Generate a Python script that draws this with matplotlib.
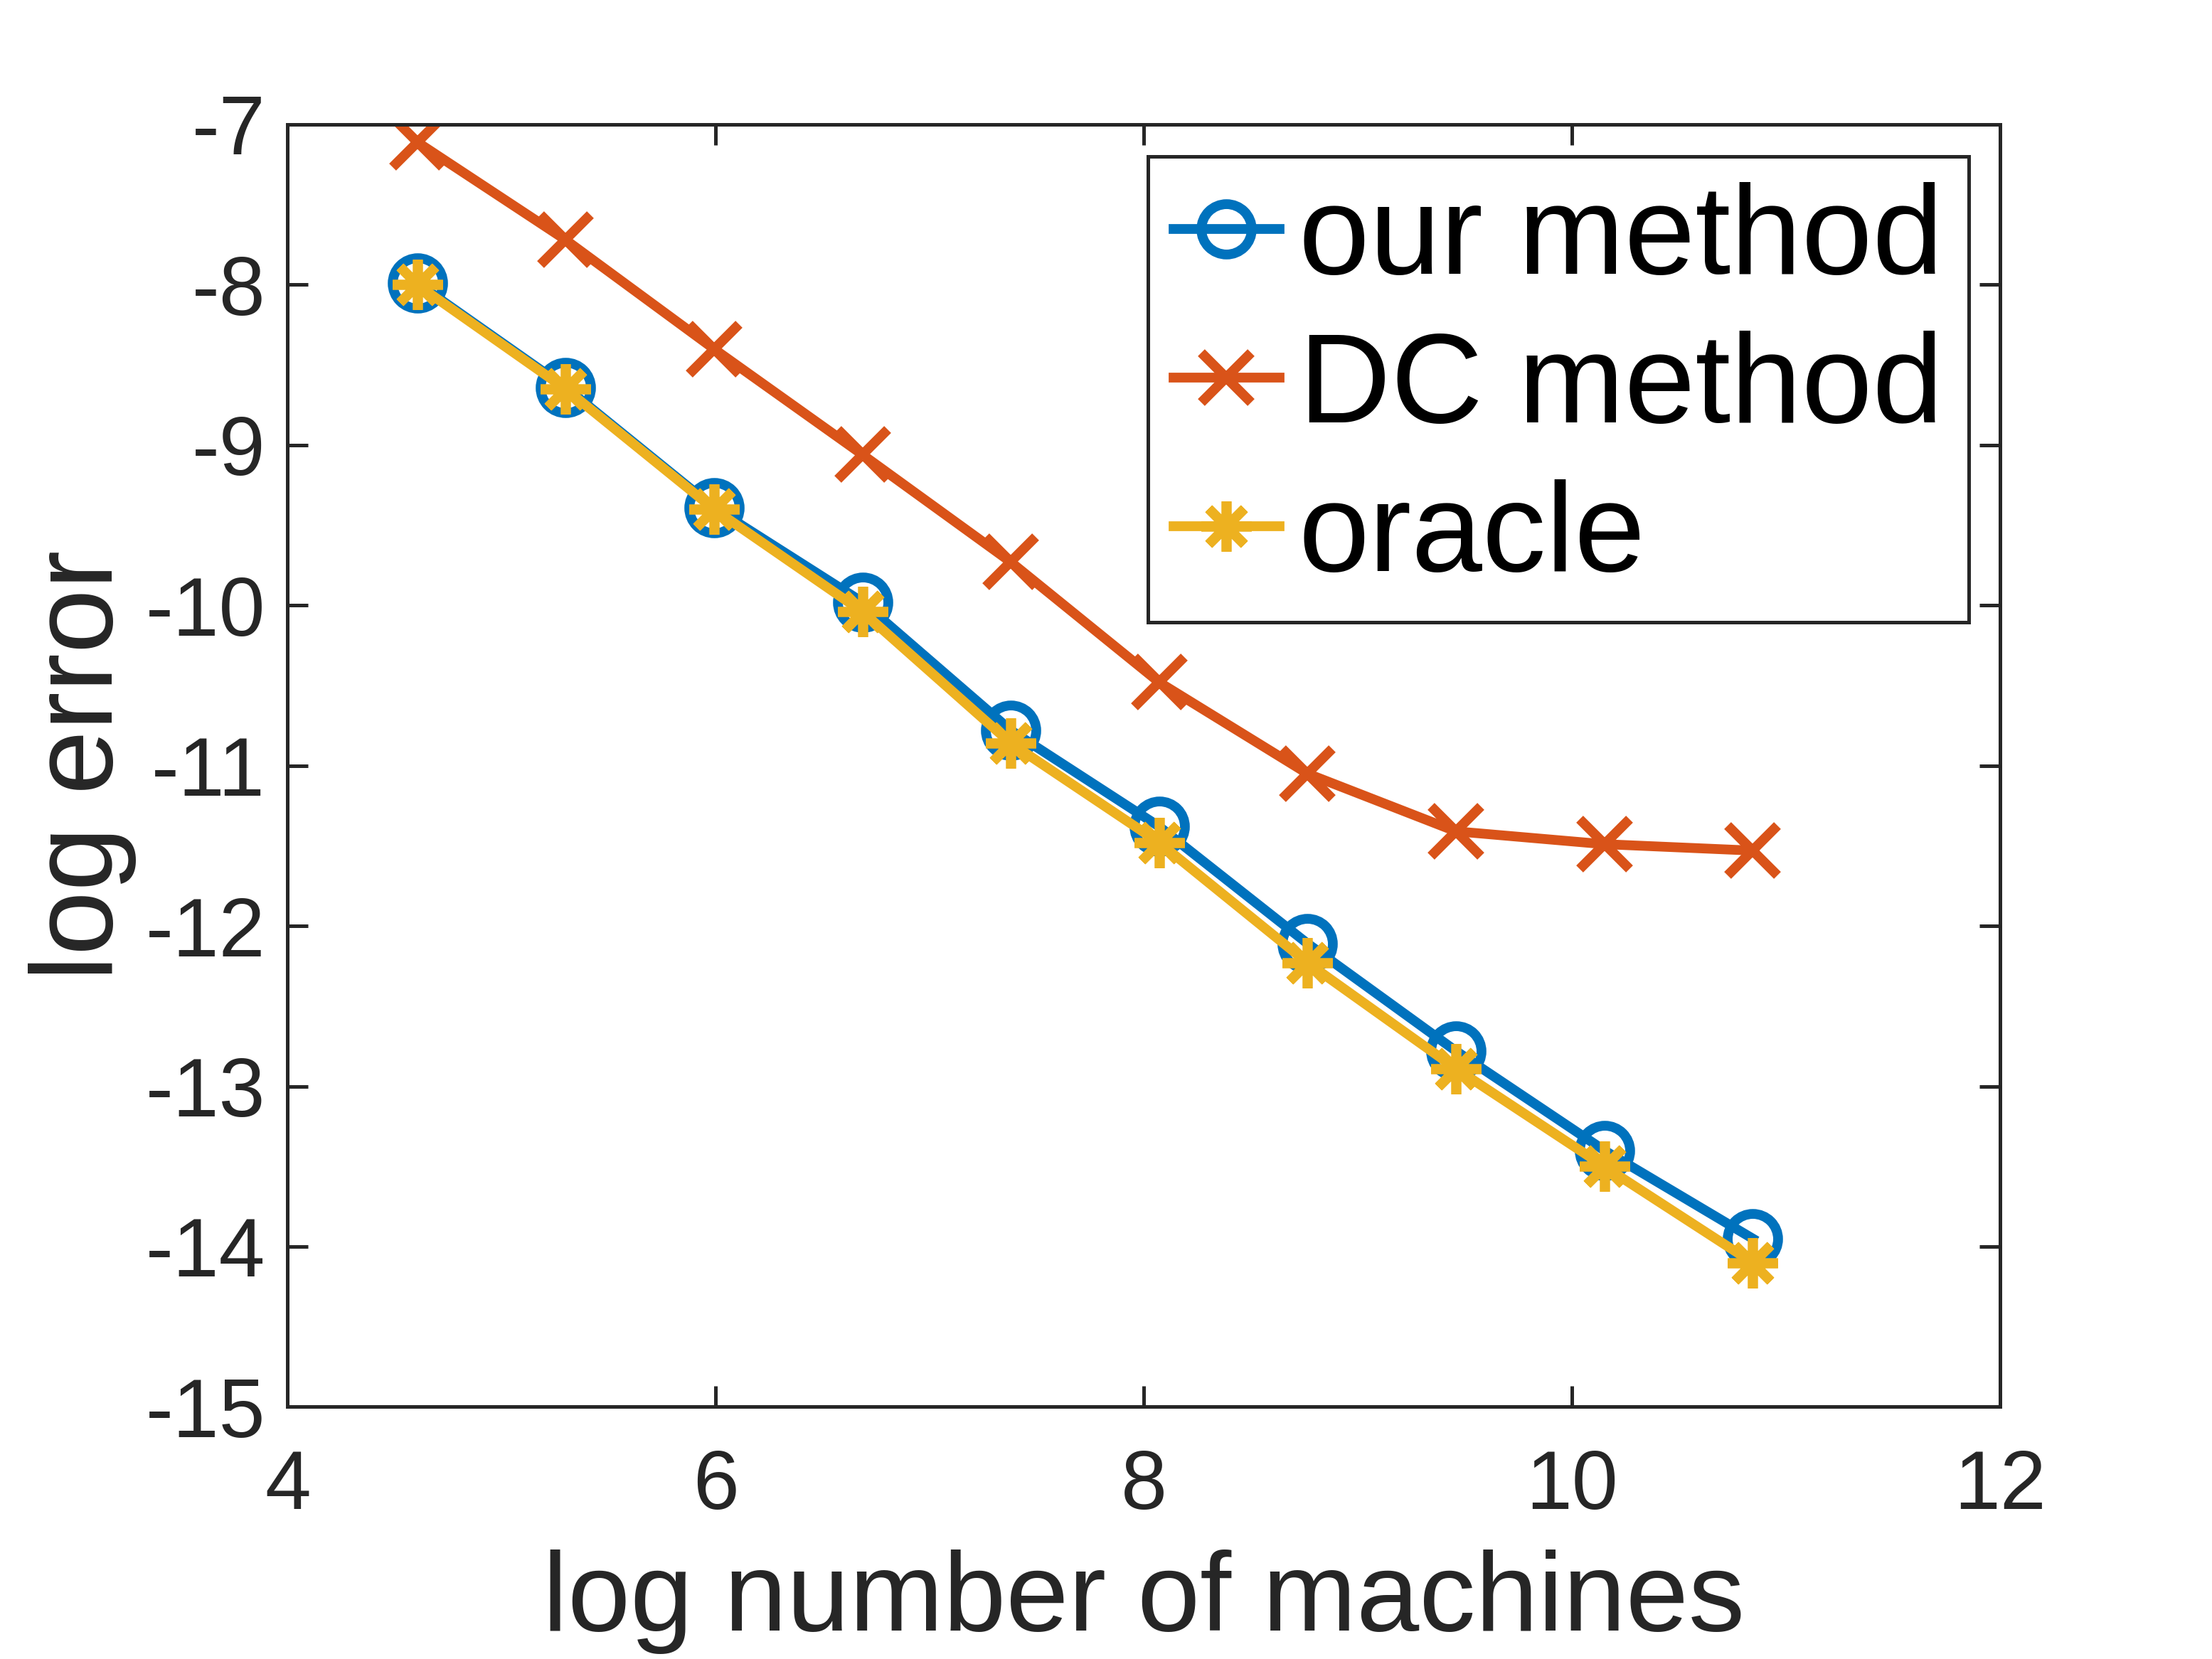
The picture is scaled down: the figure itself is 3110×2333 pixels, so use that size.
import matplotlib
matplotlib.use("Agg")
import matplotlib.pyplot as plt

plt.rcParams['font.family'] = ['Liberation Sans', 'DejaVu Sans']
plt.rcParams['axes.unicode_minus'] = False

# log number of machines (100, 200, ..., 51200)
log_machines = [4.605, 5.298, 5.991, 6.685, 7.378, 8.071, 8.764, 9.457, 10.150, 10.843]

# log error
our_method = [-7.99, -8.64, -9.39, -9.98, -10.78, -11.38, -12.11, -12.78, -13.40, -13.95]
dc_method = [-7.11, -7.72, -8.40, -9.06, -9.73, -10.48, -11.05, -11.41, -11.49, -11.53]
oracle = [-8.00, -8.65, -9.40, -10.04, -10.86, -11.48, -12.23, -12.89, -13.50, -14.10]

labels = ['our method', 'DC method', 'oracle']
colors = ['#0072BD', '#D95319', '#EDB120']
axcol = '#262626'

fig = plt.figure(figsize=(3111 / 300, 2333 / 300), dpi=300)
ax = fig.add_axes([0.130, 0.152, 0.774, 0.773])

lw = 3.3
ax.plot(log_machines, our_method, color=colors[0], lw=lw, marker='o', ms=17,
        mfc='none', mew=lw, label=labels[0])
ax.plot(log_machines, dc_method, color=colors[1], lw=lw, marker='x', ms=17,
        mew=lw, label=labels[1])
ax.plot(log_machines, oracle, color=colors[2], lw=lw, marker=(8, 2, 0), ms=17,
        mew=lw, label=labels[2])

ax.set_xlim(4, 12)
ax.set_ylim(-15, -7)
ax.set_xticks([4, 6, 8, 10, 12])
ax.set_yticks(range(-15, -6))

for s in ax.spines.values():
    s.set_color(axcol)
    s.set_linewidth(1.2)
ax.tick_params(direction='in', length=7, width=1.2, colors=axcol,
               labelsize=28, top=True, right=True, pad=7.5)
ax.tick_params(axis='x', pad=14)

ax.set_xlabel('log number of machines', fontsize=38, color=axcol, labelpad=8)
ax.set_ylabel('log error', fontsize=39, color=axcol, labelpad=3)

leg = ax.legend(loc='upper right', fontsize=43, frameon=True, fancybox=False,
                handlelength=0.83, handletextpad=0.15, borderpad=0.2,
                labelspacing=0.24, borderaxespad=0.25, edgecolor=axcol,
                framealpha=1)
leg.get_frame().set_linewidth(1.2)

fig.savefig('out.png', dpi=300)
